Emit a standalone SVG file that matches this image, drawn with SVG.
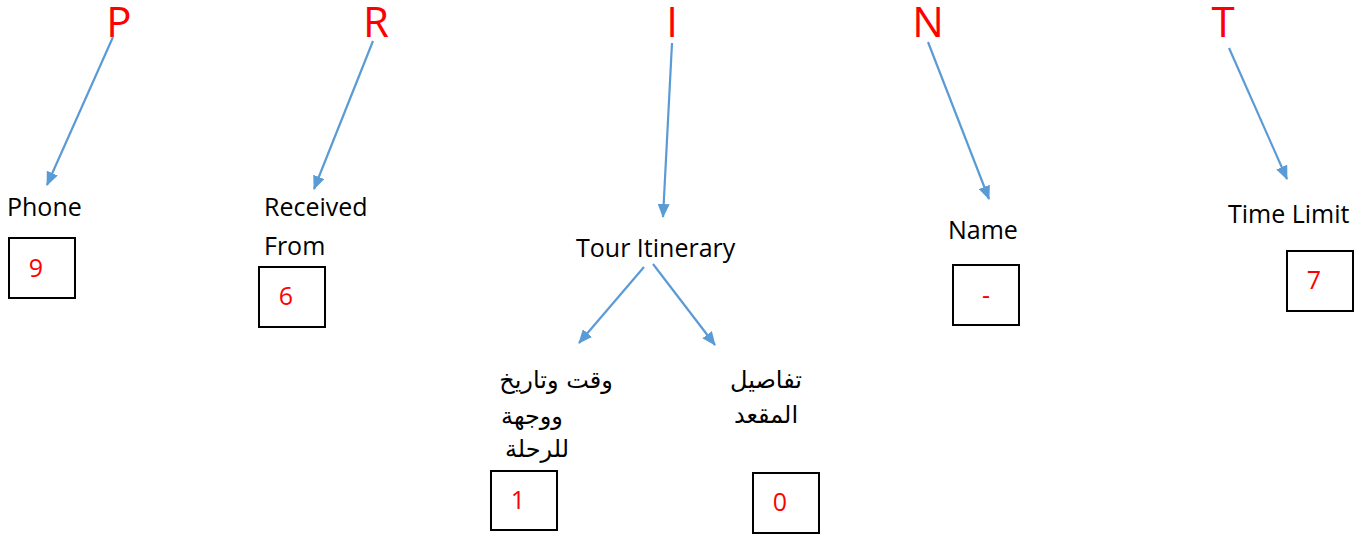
<svg xmlns="http://www.w3.org/2000/svg" width="1371" height="538" viewBox="0 0 1371 538">
<defs>
<marker id="ah" markerWidth="14" markerHeight="12" refX="13" refY="6" orient="auto" markerUnits="userSpaceOnUse">
<path d="M0,0 L14,6 L0,12 Z" fill="#5B9BD5"/>
</marker>
<style>
.big{font-family:"Open Sans","Liberation Sans",sans-serif;font-size:42px;fill:#FF0000;text-anchor:middle}
.lbl{font-family:"Open Sans","Liberation Sans",sans-serif;font-size:25px;fill:#000}
.ar{font-family:"DejaVu Sans","Noto Sans",sans-serif;font-size:24px;fill:#000;text-anchor:middle}
.num{font-family:"Open Sans","Liberation Sans",sans-serif;font-size:25px;fill:#FF0000;text-anchor:middle}
.box{fill:none;stroke:#000;stroke-width:2}
.con{stroke:#5B9BD5;stroke-width:2.2;fill:none;marker-end:url(#ah)}
</style>
</defs>
<rect width="1371" height="538" fill="#fff"/>
<g id="letters">
<text class="big" x="119" y="37">P</text>
<text class="big" x="376" y="37">R</text>
<text class="big" x="672" y="37">I</text>
<text class="big" x="928" y="37">N</text>
<text class="big" x="1223" y="37">T</text>
</g>
<g id="connectors">
<line class="con" x1="113" y1="37" x2="47" y2="185"/>
<line class="con" x1="373" y1="41" x2="314" y2="189"/>
<line class="con" x1="672" y1="43" x2="663" y2="217"/>
<line class="con" x1="928" y1="42" x2="989" y2="199"/>
<line class="con" x1="1229" y1="48" x2="1287" y2="179"/>
<line class="con" x1="644" y1="267" x2="579" y2="343"/>
<line class="con" x1="653" y1="264" x2="715" y2="345"/>
</g>
<g id="phone">
<text class="lbl" x="7" y="216">Phone</text>
<rect class="box" x="9" y="238" width="66" height="60"/>
<text class="num" x="36" y="277">9</text>
</g>
<g id="received">
<text class="lbl" x="264" y="216">Received</text>
<text class="lbl" x="264" y="255">From</text>
<rect class="box" x="259" y="267" width="66" height="60"/>
<text class="num" x="286" y="305">6</text>
</g>
<g id="tour">
<text class="lbl" x="576" y="257">Tour Itinerary</text>
</g>
<g id="trip">
<text class="ar" x="556" y="388">وقت وتاريخ</text>
<text class="ar" x="532" y="424">ووجهة</text>
<text class="ar" x="537" y="457">للرحلة</text>
<rect class="box" x="491" y="471" width="66" height="59"/>
<text class="num" x="518" y="509">1</text>
</g>
<g id="seat">
<text class="ar" x="766" y="388">تفاصيل</text>
<text class="ar" x="766" y="423">المقعد</text>
<rect class="box" x="753" y="473" width="66" height="60"/>
<text class="num" x="780" y="511">0</text>
</g>
<g id="name">
<text class="lbl" x="948" y="239">Name</text>
<rect class="box" x="953" y="265" width="66" height="60"/>
<text class="num" x="986" y="304">-</text>
</g>
<g id="timelimit">
<text class="lbl" x="1228" y="223">Time Limit</text>
<rect class="box" x="1287" y="251" width="66" height="60"/>
<text class="num" x="1314" y="289">7</text>
</g>
</svg>
